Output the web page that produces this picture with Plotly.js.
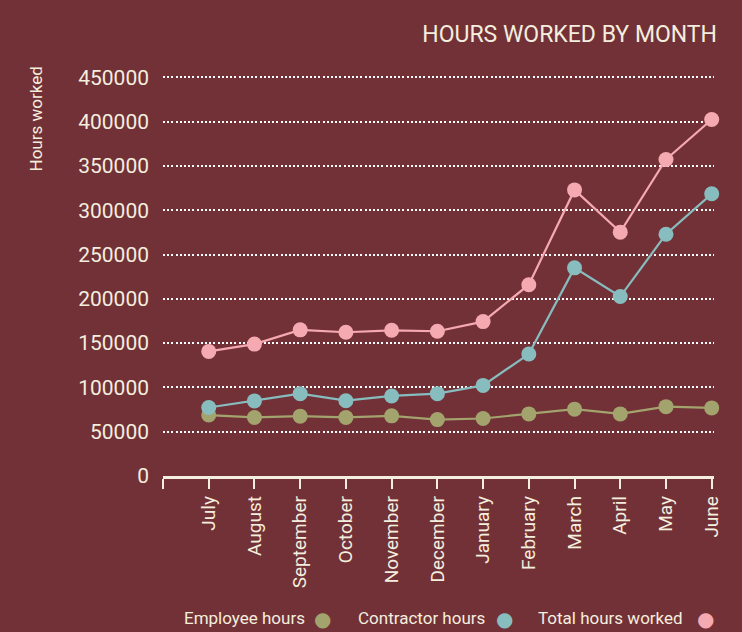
<!DOCTYPE html>
<html>
<head>
<meta charset="utf-8">
<script src="https://cdn.plot.ly/plotly-3.0.1.min.js"></script>
<style>
html,body{margin:0;padding:0;background:#723137;}
#chart{width:742px;height:632px;}
</style>
</head>
<body>
<div id="chart"></div>
<script>
var months = ["July","August","September","October","November","December","January","February","March","April","May","June"];
var employeeHours = [68800, 66100, 67600, 66100, 67900, 63700, 64900, 70100, 75500, 70100, 78300, 76900];
var contractorHours = [77300, 84800, 93000, 85000, 90400, 93000, 102300, 137700, 235000, 202600, 273000, 318600];
var totalHours = [140700, 148900, 165000, 162300, 164500, 163400, 174300, 216000, 323000, 275300, 357400, 402500];
var yTicks = [0, 50000, 100000, 150000, 200000, 250000, 300000, 350000, 400000, 450000];
var seriesNames = ["Employee hours", "Contractor hours", "Total hours worked"];
var seriesColors = ["#a3a36e", "#88bdbf", "#f5a9b1"];

var FONT = "Roboto, 'DejaVu Sans', sans-serif";
var CREAM = "#f4eedf";
var idx = months.map(function(m, i){ return i; });

function trace(vals, k){
  return {
    x: idx, y: vals, name: seriesNames[k], type: "scatter", mode: "lines+markers",
    line: {color: seriesColors[k], width: 2.2},
    marker: {color: seriesColors[k], size: 15},
    cliponaxis: false, hoverinfo: "skip"
  };
}
var data = [trace(employeeHours,0), trace(contractorHours,1), trace(totalHours,2)];

var tickvals = [-1].concat(idx);
var ticktext = [""].concat(months);

// plot area geometry (pixels) used to place legend/title annotations
var PL = 163, PW = 551.3, PB = 476, PT = 73.1, PH = PB - PT;

var legendAnn = [];
var legendTextRight = [307, 487, 685];
var legendDotX = [323, 505, 706];
seriesNames.forEach(function(n, k){
  legendAnn.push({
    xref: "paper", yref: "paper",
    x: (legendTextRight[k] - PL) / PW, y: (PB - 618) / PH,
    xanchor: "right", yanchor: "middle", showarrow: false,
    text: n, font: {family: FONT, size: 17, color: CREAM}
  });
  legendAnn.push({
    xref: "paper", yref: "paper",
    x: (legendDotX[k] - PL) / PW, y: (PB - 619) / PH,
    xanchor: "center", yanchor: "middle", showarrow: false,
    text: "●", font: {family: "'DejaVu Sans', sans-serif", size: 20, color: seriesColors[k]}
  });
});

var layout = {
  width: 742, height: 632,
  paper_bgcolor: "#723137", plot_bgcolor: "#723137",
  margin: {l: 163, r: 28, t: PT, b: 632 - PB - 0},
  showlegend: false,
  font: {family: FONT, color: CREAM},
  title: {
    text: "HOURS WORKED BY MONTH",
    font: {family: FONT, size: 23, color: CREAM},
    xref: "container", yref: "container",
    x: 717/742, xanchor: "right", y: 1 - 34/632, yanchor: "middle"
  },
  xaxis: {
    range: [-1, 11.05], tickmode: "array", tickvals: tickvals, ticktext: ticktext,
    tickangle: -90, showgrid: false, zeroline: false,
    showline: true, linecolor: CREAM, linewidth: 2.5,
    ticks: "outside", ticklen: 10, tickwidth: 2, tickcolor: CREAM,
    tickfont: {family: FONT, size: 19, color: CREAM}
  },
  yaxis: {
    range: [0, 455000], tickmode: "array", tickvals: yTicks,
    ticktext: yTicks.map(String),
    showgrid: true, gridcolor: "#ffffff", gridwidth: 2, griddash: "2px,2.2px",
    zeroline: false, showline: false, ticks: "",
    ticklabelstandoff: 13,
    tickfont: {family: FONT, size: 21, color: CREAM}
  },
  annotations: [{
    xref: "paper", yref: "paper",
    x: (36 - PL) / PW, y: (PB - 65) / PH,
    xanchor: "center", yanchor: "top", textangle: -90, showarrow: false,
    text: "Hours worked", font: {family: FONT, size: 17, color: CREAM}
  }].concat(legendAnn)
};

Plotly.newPlot("chart", data, layout, {displayModeBar: false, staticPlot: true});
</script>
</body>
</html>
